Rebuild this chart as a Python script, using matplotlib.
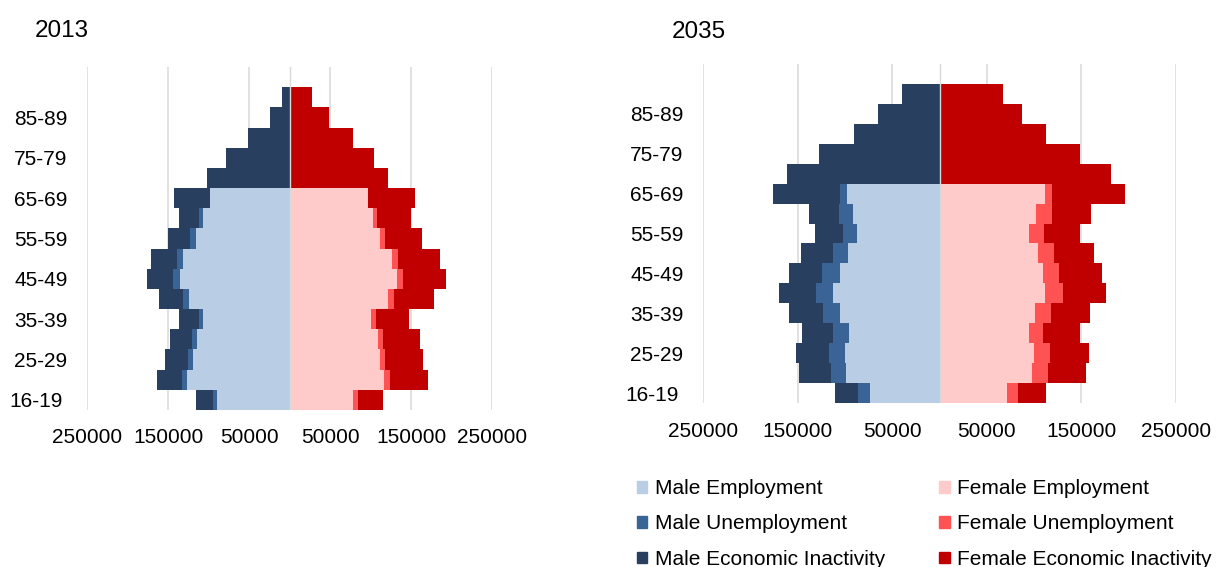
import numpy as np
import matplotlib.pyplot as plt
import matplotlib.transforms as mtransforms
from matplotlib.patches import Patch

plt.rcParams['font.family'] = ['Liberation Sans', 'DejaVu Sans']

ages = ['16-19', '20-24', '25-29', '30-34', '35-39', '40-44', '45-49', '50-54',
        '55-59', '60-64', '65-69', '70-74', '75-79', '80-84', '85-89', '90+']

# 2013 labour market status by age
male_emp_2013 = [89400, 126400, 119000, 114400, 106200, 124300, 135800, 131300,
                 116000, 106200, 98400, 0, 0, 0, 0, 0]
male_unemp_2013 = [4900, 6600, 6600, 5800, 5400, 7000, 7900, 7400,
                   7100, 5400, 0, 0, 0, 0, 0, 0]
male_inact_2013 = [21700, 30500, 28700, 27600, 25100, 29700, 32500, 31700,
                   27100, 25400, 44100, 102000, 79000, 51100, 24300, 9100]
female_emp_2013 = [79000, 116900, 112300, 109500, 101200, 121900, 132500, 126300,
                   112000, 102500, 97100, 0, 0, 0, 0, 0]
female_unemp_2013 = [5000, 6900, 6200, 6500, 6200, 7400, 7900, 7900,
                     6100, 5700, 0, 0, 0, 0, 0, 0]
female_inact_2013 = [32000, 46900, 45700, 44500, 40700, 48500, 53400, 51000,
                     45700, 42000, 57600, 122200, 104100, 78600, 48500, 28000]

# 2035 projection
male_emp_2035 = [73600, 98600, 100000, 96100, 104900, 112300, 105600, 96500,
                 87300, 91200, 97500, 0, 0, 0, 0, 0]
male_unemp_2035 = [12600, 16200, 17200, 16500, 18300, 18300, 18300, 16500,
                   14800, 15100, 7700, 0, 0, 0, 0, 0]
male_inact_2035 = [24700, 33700, 34500, 32800, 35500, 38700, 35600, 33100,
                   29200, 31300, 71200, 161200, 127400, 90800, 64800, 40100]
female_emp_2035 = [71800, 98200, 100000, 94300, 101400, 111900, 109100, 104200,
                   94300, 102100, 111600, 0, 0, 0, 0, 0]
female_unemp_2035 = [11600, 16200, 16900, 15500, 16900, 18700, 17600, 17200,
                     15900, 16900, 7700, 0, 0, 0, 0, 0]
female_inact_2035 = [29600, 40100, 40800, 38800, 41200, 45700, 44700, 41900,
                     38700, 41200, 76400, 181300, 148200, 112300, 87300, 67200]

x_ticks = [-250000, -150000, -50000, 50000, 150000, 250000]

colors = {
    'Male Employment': '#B9CDE5',
    'Male Unemployment': '#3A6396',
    'Male Economic Inactivity': '#283F5F',
    'Female Employment': '#FFCACA',
    'Female Unemployment': '#FF5252',
    'Female Economic Inactivity': '#C00000',
}


def pyramid(ax, m_emp, m_unemp, m_inact, f_emp, f_unemp, f_inact):
    y = np.arange(len(ages))
    m_emp = np.array(m_emp)
    m_unemp = np.array(m_unemp)
    m_inact = np.array(m_inact)
    f_emp = np.array(f_emp)
    f_unemp = np.array(f_unemp)
    f_inact = np.array(f_inact)

    ax.barh(y, -m_emp, height=1.0, color=colors['Male Employment'], zorder=2)
    ax.barh(y, -m_unemp, left=-m_emp, height=1.0,
            color=colors['Male Unemployment'], zorder=2)
    ax.barh(y, -m_inact, left=-(m_emp + m_unemp), height=1.0,
            color=colors['Male Economic Inactivity'], zorder=2)

    ax.barh(y, f_emp, height=1.0, color=colors['Female Employment'], zorder=2)
    ax.barh(y, f_unemp, left=f_emp, height=1.0,
            color=colors['Female Unemployment'], zorder=2)
    ax.barh(y, f_inact, left=f_emp + f_unemp, height=1.0,
            color=colors['Female Economic Inactivity'], zorder=2)

    for xv in x_ticks:
        ax.axvline(xv, color='#D9D9D9', lw=1.1, zorder=1)
    ax.axvline(0, color='#D9D9D9', lw=1.0, zorder=3)

    ax.set_xlim(-250000, 250000)
    ax.set_ylim(-0.5, len(ages) + 0.5)
    ax.set_xticks(x_ticks)
    ax.set_xticklabels([str(abs(v)) for v in x_ticks])
    ax.set_yticks(y[::2])
    ax.set_yticklabels(ages[::2])
    ax.tick_params(length=0, labelsize=15)
    ax.tick_params(axis='y', pad=14)
    for s in ax.spines.values():
        s.set_visible(False)

    # bottom label sits a little further left
    lab = ax.get_yticklabels()[0]
    lab.set_transform(lab.get_transform() +
                      mtransforms.ScaledTranslation(-5 / 100, 0, ax.figure.dpi_scale_trans))


fig = plt.figure(figsize=(12.18, 5.67), dpi=100)

ax1 = fig.add_axes([87 / 1218, 1 - 410 / 567, 405 / 1218, 343 / 567])
pyramid(ax1, male_emp_2013, male_unemp_2013, male_inact_2013,
        female_emp_2013, female_unemp_2013, female_inact_2013)
ax1.tick_params(axis='x', pad=13)

ax2 = fig.add_axes([703 / 1218, 1 - 403 / 567, 473 / 1218, 339 / 567])
pyramid(ax2, male_emp_2035, male_unemp_2035, male_inact_2035,
        female_emp_2035, female_unemp_2035, female_inact_2035)
ax2.tick_params(axis='x', pad=14)

fig.text(35 / 1218, 1 - 37 / 567, '2013', fontsize=17.5, va='baseline', ha='left')
fig.text(672 / 1218, 1 - 38 / 567, '2035', fontsize=17.5, va='baseline', ha='left')

handles = [Patch(color=c, label=k) for k, c in colors.items()]
fig.legend(handles=handles, ncol=2, loc='upper left',
           bbox_to_anchor=(637 / 1218, 1 - 479 / 567),
           frameon=False, fontsize=15, borderpad=0, borderaxespad=0,
           handlelength=0.5, handleheight=0.5, handletextpad=0.35,
           columnspacing=2.6, labelspacing=0.79)

fig.savefig('out.png', dpi=100)
